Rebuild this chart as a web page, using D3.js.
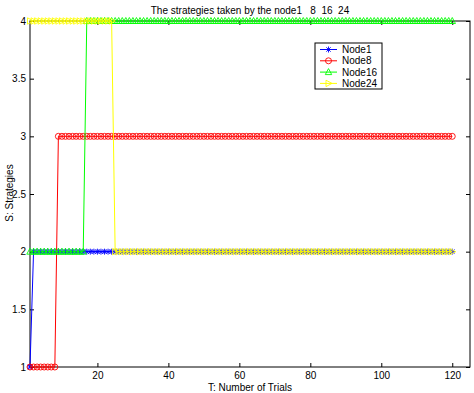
<!DOCTYPE html>
<html>
<head>
<meta charset="utf-8">
<script src="https://cdn.jsdelivr.net/npm/d3@7"></script>
<style>
  body { margin: 0; background: #fff; }
  text { font-family: "Liberation Sans", Arial, sans-serif; }
</style>
</head>
<body>
<div id="chart"></div>
<script>
// Trials run 1..120, each node's strategy given as runs [firstTrial, lastTrial, strategy]
var trialCount = 120;
var node1Runs = [[1, 1, 1], [2, 120, 2]];
var node8Runs = [[1, 8, 1], [9, 120, 3]];
var node16Runs = [[1, 16, 2], [17, 120, 4]];
var node24Runs = [[1, 24, 4], [25, 120, 2]];

var seriesNames = ["Node1", "Node8", "Node16", "Node24"];
var seriesColors = ["#0000ff", "#ff0000", "#00ff00", "#ffff00"];
var seriesMarkers = ["star", "circle", "triUp", "triRight"];
var xTicks = [20, 40, 60, 80, 100, 120];
var yTicks = [1, 1.5, 2, 2.5, 3, 3.5, 4];

// expand runs into one point per trial
function expand(runs) {
    var pts = [];
    runs.forEach(function (r) {
        for (var t = r[0]; t <= r[1]; t++) pts.push({ t: t, s: r[2] });
    });
    return pts;
}
var allRuns = [node1Runs, node8Runs, node16Runs, node24Runs];

var svgWidth = 474;
var svgHeight = 393;
var margin = { top: 21, right: 4, bottom: 26, left: 30 };
var width = svgWidth - margin.left - margin.right;
var height = svgHeight - margin.top - margin.bottom;

var svg = d3.select("#chart")
    .append("svg")
    .attr("width", svgWidth)
    .attr("height", svgHeight);

var chartGroup = svg.append("g")
    .attr("transform", `translate(${margin.left}, ${margin.top})`);

var xScale = d3.scaleLinear().domain([1, 125]).range([0, width]);
var yScale = d3.scaleLinear().domain([1, 4]).range([height, 0]);

// axes, matlab style: ticks pointing inward, box all round
chartGroup.append("g")
    .attr("transform", `translate(0, ${height})`)
    .call(d3.axisBottom(xScale).tickValues(xTicks).tickSize(-4).tickPadding(5))
    .call(g => g.select(".domain").remove());
chartGroup.append("g")
    .call(d3.axisTop(xScale).tickValues(xTicks).tickSize(-4).tickFormat(""))
    .call(g => g.select(".domain").remove());
chartGroup.append("g")
    .call(d3.axisLeft(yScale).tickValues(yTicks).tickSize(-4).tickPadding(4).tickFormat(d3.format("")))
    .call(g => g.select(".domain").remove());
chartGroup.append("g")
    .attr("transform", `translate(${width}, 0)`)
    .call(d3.axisRight(yScale).tickValues(yTicks).tickSize(-4).tickFormat(""))
    .call(g => g.select(".domain").remove());

chartGroup.selectAll(".tick text")
    .attr("font-size", "10px")
    .attr("fill", "#000")
    .style("font-family", "Liberation Sans, Arial, sans-serif");
chartGroup.selectAll(".tick line").attr("stroke", "#000");

chartGroup.append("rect")
    .attr("width", width)
    .attr("height", height)
    .attr("fill", "none")
    .attr("stroke", "#000")
    .attr("stroke-width", 1);

// marker drawing
function drawMarker(sel, kind, color) {
    if (kind === "circle") {
        sel.append("circle").attr("r", 3).attr("fill", "none").attr("stroke", color).attr("stroke-width", 0.9);
    } else if (kind === "star") {
        sel.append("path").attr("d", "M-3,0H3M0,-3V3M-2.2,-2.2L2.2,2.2M-2.2,2.2L2.2,-2.2")
            .attr("stroke", color).attr("stroke-width", 0.9);
    } else if (kind === "triUp") {
        sel.append("path").attr("d", "M0,-3.5L3.2,2.5L-3.2,2.5Z").attr("fill", "none")
            .attr("stroke", color).attr("stroke-width", 0.9);
    } else if (kind === "triRight") {
        sel.append("path").attr("d", "M3.5,0L-2.5,3.2L-2.5,-3.2Z").attr("fill", "none")
            .attr("stroke", color).attr("stroke-width", 0.9);
    }
}

var line = d3.line().x(d => xScale(d.t)).y(d => yScale(d.s));

allRuns.forEach(function (runs, i) {
    var pts = expand(runs);
    var g = chartGroup.append("g");
    g.append("path")
        .datum(pts)
        .attr("d", line)
        .attr("fill", "none")
        .attr("stroke", seriesColors[i])
        .attr("stroke-width", 1);
    g.selectAll(".m")
        .data(pts)
        .enter()
        .append("g")
        .attr("transform", d => `translate(${xScale(d.t)}, ${yScale(d.s)})`)
        .each(function () { drawMarker(d3.select(this), seriesMarkers[i], seriesColors[i]); });
});

// legend
var legend = svg.append("g").attr("transform", "translate(315, 43)");
legend.append("rect")
    .attr("width", 67)
    .attr("height", 46)
    .attr("fill", "#fff")
    .attr("stroke", "#000");
seriesNames.forEach(function (name, i) {
    var row = legend.append("g").attr("transform", `translate(0, ${6.5 + i * 11.3})`);
    row.append("line").attr("x1", 5).attr("x2", 22).attr("stroke", seriesColors[i]).attr("stroke-width", 1);
    var m = row.append("g").attr("transform", "translate(13.5, 0)");
    drawMarker(m, seriesMarkers[i], seriesColors[i]);
    row.append("text")
        .attr("x", 27)
        .attr("y", 3.6)
        .attr("font-size", "10px")
        .text(name);
});

// title and axis labels
svg.append("text")
    .attr("x", 250)
    .attr("y", 14)
    .attr("text-anchor", "middle")
    .attr("font-size", "10px")
    .attr("xml:space", "preserve")
    .style("white-space", "pre")
    .text("The strategies taken by the node1   8  16  24");

svg.append("text")
    .attr("x", 250)
    .attr("y", 391)
    .attr("text-anchor", "middle")
    .attr("font-size", "10px")
    .text("T: Number of Trials");

svg.append("text")
    .attr("transform", "rotate(-90)")
    .attr("x", -193)
    .attr("y", 13)
    .attr("text-anchor", "middle")
    .attr("font-size", "10px")
    .text("S: Strategies");
</script>
</body>
</html>
